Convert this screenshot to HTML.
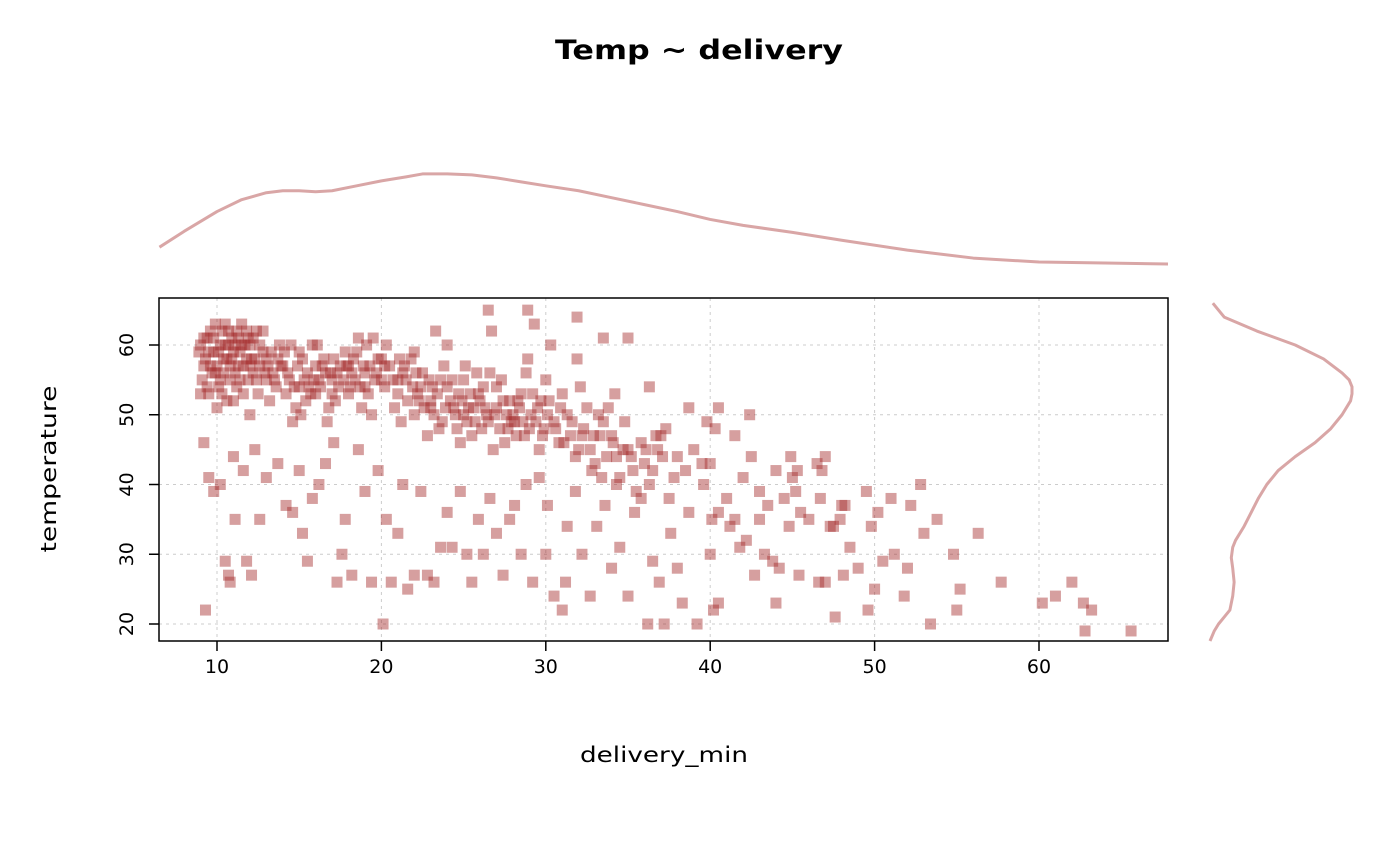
<!DOCTYPE html>
<html><head><meta charset="utf-8"><style>
body{margin:0;background:#fff;}
svg{display:block;font-family:"DejaVu Sans","Liberation Sans",sans-serif;}
</style></head><body>
<svg id="chart" width="1400" height="866">
<text x="699" y="59" text-anchor="middle" font-size="27" font-weight="bold" textLength="288" lengthAdjust="spacingAndGlyphs">Temp ~ delivery</text>
<g id="grid"></g>
<g id="pts"></g>
<rect x="159" y="298" width="1009" height="343" fill="none" stroke="#000" stroke-width="1.5"/>
<g id="axes"></g>
<text x="664" y="762" text-anchor="middle" font-size="21" textLength="168" lengthAdjust="spacingAndGlyphs">delivery_min</text>
<text transform="translate(56,469) rotate(-90)" text-anchor="middle" font-size="21" textLength="167" lengthAdjust="spacingAndGlyphs">temperature</text>
<path id="topDens" fill="none" stroke="#d9a6a6" stroke-width="3" stroke-linejoin="round"/>
<path id="rightDens" fill="none" stroke="#d9a6a6" stroke-width="3" stroke-linejoin="round"/>
</svg>
<script>
const xTicks=[10,20,30,40,50,60];
const yTicks=[20,30,40,50,60];
const xDensX=[6.5,8,10,11.5,13,14,15,16,17,18.5,20,21.5,22.5,24,25.5,27,28.5,30,32,34,36,38,40,42,45,48,52,56,60,64,68];
const xDensY=[0.18,0.34,0.54,0.66,0.73,0.75,0.75,0.74,0.75,0.8,0.85,0.89,0.92,0.92,0.91,0.88,0.84,0.8,0.75,0.68,0.61,0.54,0.46,0.4,0.33,0.25,0.15,0.07,0.03,0.02,0.01];
const yDensT=[17.5,19,20,21,22,24,26,28,29.5,31,32,34,36,38,40,42,44,46,48,50,52,53,54,55,56,58,60,62,64,66];
const yDensD=[0.0,0.03,0.06,0.1,0.14,0.16,0.17,0.16,0.15,0.16,0.18,0.24,0.29,0.34,0.4,0.48,0.6,0.74,0.85,0.93,0.99,1.0,1.0,0.98,0.93,0.8,0.6,0.33,0.1,0.02];
const points=[[9,60],[9.3,58],[9.6,62],[10,57],[10.2,60],[10.5,63],[10.8,55],[11,59],[11.3,61],[11.6,57],[12,60],[12.3,58],[9.1,55],[9.5,53],[10.1,54],[10.6,58],[11.1,56],[11.5,63],[11.9,55],[12.4,62],[9.4,61],[9.8,59],[10.4,56],[10.9,61],[11.4,59],[11.8,62],[12.2,56],[9.2,57],[9.7,56],[10.3,62],[10.7,60],[11.2,54],[11.7,60],[12.1,58],[8.9,59],[9.9,63],[10.6,52],[11.3,57],[12.5,53],[9,53],[10,51],[11,52],[12,50],[12.6,57],
[9.5,59],[10.4,58],[11.5,60],[12.8,59],[10.8,57],[11.9,61],[9.9,56],[12.9,56],[10.2,55],[11.2,62],
[9.2,61],[9.6,57],[10.1,59],[10.5,60],[10.9,58],[11.4,55],[11.8,58],[12.2,61],[12.6,60],[13.1,57],[9.4,54],[10.3,53],[11.6,53],[12.4,55],[13.3,59],[9.8,61],[10.7,62],[11.1,60],[12,57],[13,55],
[13,58],[13.5,55],[14,57],[14.5,60],[15,54],[15.5,56],[16,53],[16.5,58],[17,55],[17.5,57],[18,53],[18.5,59],[19,56],[19.5,61],[20,55],[13.2,52],[14.2,53],[15.2,58],[16.2,55],[17.2,52],[18.2,56],[19.2,53],[13.8,60],[14.8,51],[15.8,60],[16.8,51],[17.8,59],[18.8,51],[19.8,58],[13.4,56],[14.4,55],[15.4,52],[16.4,57],[17.4,54],[18.4,55],[19.4,50],[12.8,62],[14.6,49],[16.7,49],[18.6,61],[17.9,57],[15.1,50],[19.1,60],[13.6,54],[16.1,60],
[14.1,59],[15.6,54],[17.1,58],[18.1,54],[19.6,55],[13.9,57],[16.9,56],[18.9,57],[15.9,55],[20.2,57],
[13.7,58],[14.3,56],[14.9,57],[15.3,55],[15.7,53],[16.3,54],[16.6,56],[17.3,56],[17.7,55],[18.3,58],[18.7,54],[19.3,57],[19.7,56],[14.7,54],[16,57],[17,53],[18,57],[19,54],[20,58],[15,59],
[20.5,57],[21,53],[21.5,55],[22,50],[22.5,56],[23,52],[23.5,48],[24,54],[24.5,50],[25,55],[25.5,47],[26,52],[26.5,49],[27,54],[27.5,46],[28,50],[28.5,53],[29,48],[29.5,51],[30,55],[20.8,51],[21.8,58],[22.8,47],[23.8,57],[24.8,46],[25.8,56],[26.8,45],[27.8,52],[28.8,56],[29.8,47],[20.2,54],[21.2,49],[22.2,53],[23.2,50],[24.2,52],[25.2,49],[26.2,54],[27.2,48],[28.2,47],[29.2,53],[21.4,57],[22.6,51],[23.6,55],[24.6,48],[25.6,51],[26.6,56],[27.6,50],[28.6,49],[29.6,45],[23.3,62],[26.7,62],[24,60],[20.3,60],[22,59],[21,55],[25.1,57],[27.3,55],[28.9,58],[30.2,52],[30.5,49],
[23,51],[24.4,51],[25.4,53],[26.4,50],[22.4,54],[28.4,51],[29.4,49],[21.6,52],[27,51],[25,50],
[20.7,55],[21.3,56],[21.9,54],[22.3,52],[22.9,55],[23.4,53],[23.9,51],[24.3,55],[24.7,53],[25.3,51],[25.7,49],[26.1,48],[26.9,50],[27.4,52],[27.9,49],[28.3,52],[28.7,47],[29.1,50],[29.7,52],[30.1,50],[22.1,56],[23.7,49],[24.9,52],[26.3,51],[27.7,48],[29.9,48],[21.1,58],[23.1,54],[25.9,53],[28.1,49],
[30.8,46],[31.3,50],[31.8,44],[32.3,48],[32.8,42],[33.3,47],[33.8,51],[34.3,44],[34.8,49],[35.3,42],[35.8,46],[36.3,40],[36.8,45],[37.3,48],[37.8,41],[31,53],[32,45],[33,43],[34,47],[35,45],[36,43],[37,47],[38,44],[31.5,47],[32.5,51],[33.5,49],[34.5,41],[35.5,39],[36.5,42],[37.5,38],[31.9,58],[32.1,54],[34.2,53],[35,61],[36.3,54],[33.5,61],[30.3,60],[29.3,63],[31.9,64],[28.9,65],[26.5,65],
[30.6,48],[31.1,46],[31.6,49],[32.2,47],[32.7,45],[33.2,50],[33.7,44],[34.1,46],[34.7,45],[35.2,44],[36.1,45],[36.7,47],[37.1,44],[30.9,51],[32.9,47],
[38.5,42],[39,45],[39.5,43],[40,43],[40.5,36],[41,38],[41.5,35],[42,41],[42.5,44],[43,39],[43.5,37],[44,42],[44.5,38],[45,41],[45.5,36],[46,35],[46.5,43],[47,44],[47.5,34],[48,37],[40.3,48],[41.5,47],[42.4,50],[39.8,49],[40.5,51],[43,35],[44.8,34],[45.2,39],[46.8,42],[42.2,32],[41.2,34],[40.1,35],[38.7,51],
[9.3,22],[9.5,41],[9.2,46],[9.8,39],[10.2,40],[10.5,29],[10.7,27],[10.8,26],[11,44],[11.1,35],[11.6,42],[11.8,29],[12.1,27],[12.3,45],[12.6,35],[13,41],[13.7,43],[14.2,37],[14.6,36],[15,42],[15.2,33],[15.5,29],[15.8,38],[16.2,40],[16.6,43],[17.1,46],[17.3,26],[17.6,30],[17.8,35],[18.2,27],[18.6,45],[19,39],[19.4,26],[19.8,42],[20.1,20],[20.3,35],[20.6,26],[21,33],[21.3,40],[21.6,25],[22,27],[22.4,39],[22.8,27],[23.2,26],[23.6,31],[24,36],[24.3,31],[24.8,39],[25.2,30],[25.5,26],[25.9,35],[26.2,30],[26.6,38],[27,33],[27.4,27],[27.8,35],[28.1,37],[28.5,30],[28.8,40],[29.2,26],[29.6,41],[30.1,37],[30.5,24],[31,22],[31.3,34],[31.8,39],[32.2,30],[32.7,24],[33.1,34],[33.6,37],[34,28],[34.5,31],[35,24],[35.4,36],[35.8,38],[36.2,20],[36.5,29],[36.9,26],[37.2,20],[37.6,33],[38,28],[38.3,23],[38.7,36],[39.2,20],[39.6,40],[40,30],[40.2,22],[40.5,23],[30,30],[31.2,26],[33.4,41],[34.3,40],
[43.3,30],[43.8,29],[44.2,28],[45.4,27],[46.6,26],[47,26],[47.6,21],[47.3,34],[48.2,37],[48.5,31],[49,28],[49.5,39],[49.6,22],[50,25],[50.2,36],[50.5,29],[51,38],[51.2,30],[51.8,24],[52.2,37],[52.8,40],[53,33],[53.4,20],[53.8,35],[54.8,30],[55,22],[55.2,25],[56.3,33],[57.7,26],[60.2,23],[61,24],[62,26],[62.7,23],[62.8,19],[63.2,22],[65.6,19],[44.9,44],[45.3,42],[49.8,34],[48.1,27],[52,28],[46.7,38],[47.9,35],[42.7,27],[41.8,31],[44,23]];

const NS='http://www.w3.org/2000/svg';
const xs=v=>217+(v-10)*16.44;
const ys=v=>624-(v-20)*6.975;
function mk(tag,attrs,parent){const e=document.createElementNS(NS,tag);for(const k in attrs)e.setAttribute(k,attrs[k]);parent.appendChild(e);return e;}
const grid=document.getElementById('grid'),axes=document.getElementById('axes'),pts=document.getElementById('pts');
xTicks.forEach(t=>{
  const g=mk('line',{x1:xs(t),x2:xs(t),y1:298,y2:641,stroke:'#ccc','stroke-dasharray':'3,4'},grid);
  
  
  const tk=mk('line',{x1:xs(t),x2:xs(t),y1:641,y2:651,stroke:'#000','stroke-width':1.5},axes);
  
  
  const lb=mk('text',{x:xs(t),y:673,'text-anchor':'middle','font-size':19},axes);
  lb.textContent=t;
  
  
});
yTicks.forEach(t=>{
  const g=mk('line',{x1:159,x2:1168,y1:ys(t),y2:ys(t),stroke:'#ccc','stroke-dasharray':'3,4'},grid);
  
  
  const tk=mk('line',{x1:149,x2:159,y1:ys(t),y2:ys(t),stroke:'#000','stroke-width':1.5},axes);
  
  
  const lb=mk('text',{transform:`translate(133,${ys(t)}) rotate(-90)`,'text-anchor':'middle','font-size':19},axes);
  lb.textContent=t;
  
  
});
points.forEach(p=>{
  const r=mk('rect',{x:xs(p[0])-5.5,y:ys(p[1])-5.5,width:11,height:11,fill:'#a52a2a','fill-opacity':0.45},pts);
  
  
});
const tdy=d=>265-d*99;
document.getElementById('topDens').setAttribute('d',xDensX.map((v,i)=>(i?'L':'M')+Math.max(159,Math.min(1168,xs(v)))+','+tdy(xDensY[i])).join(''));
const rdx=d=>1210+d*142;
document.getElementById('rightDens').setAttribute('d',yDensT.map((v,i)=>(i?'L':'M')+rdx(yDensD[i])+','+Math.max(298,Math.min(641,ys(v)))).join(''));
</script>
</body></html>
